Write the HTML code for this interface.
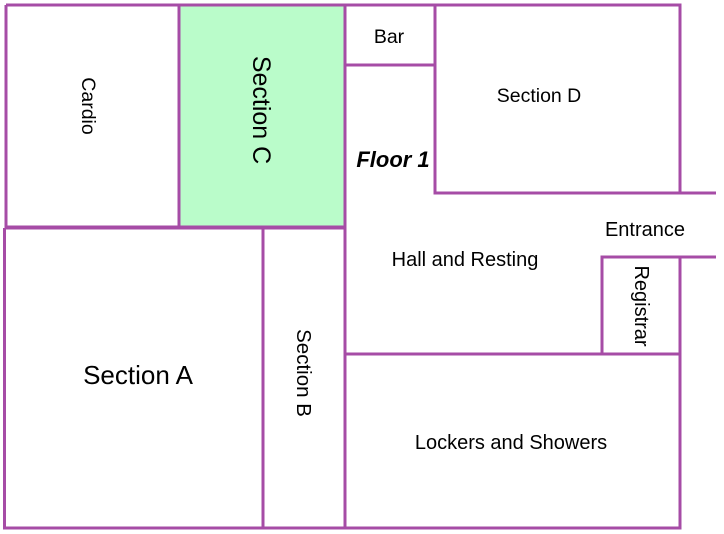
<!DOCTYPE html>
<html><head><style>
html,body{margin:0;padding:0;background:#fff;}
svg{display:block}
text{font-family:"Liberation Sans",sans-serif;fill:#000;}
</style></head><body>
<svg width="724" height="534" viewBox="0 0 724 534" xmlns="http://www.w3.org/2000/svg">
<rect x="180" y="5" width="165" height="222" fill="#bafcca"/>
<g stroke="#a64ca6" stroke-width="3" fill="none">
<path d="M6 5 H680 V193 H716"/>
<path d="M6 5 V227 H345"/>
<path d="M179 5 V227"/>
<path d="M345 5 V528"/>
<path d="M345 65 H435"/>
<path d="M435 5 V193 H680"/>
<path d="M4.5 228 V528 H680 V257"/>
<path d="M4.5 228 H345"/>
<path d="M263 228 V528"/>
<path d="M602 354 V257 H716"/>
<path d="M345 354 H680"/>
</g>
<text x="389" y="43" font-size="19.5" text-anchor="middle">Bar</text>
<text x="539" y="102" font-size="19.5" text-anchor="middle">Section D</text>
<text x="393" y="167" font-size="22" font-weight="bold" font-style="italic" text-anchor="middle">Floor 1</text>
<text x="645" y="236" font-size="20" text-anchor="middle">Entrance</text>
<text x="465" y="266" font-size="20" text-anchor="middle">Hall and Resting</text>
<text x="511" y="449" font-size="20" text-anchor="middle">Lockers and Showers</text>
<text x="138" y="384" font-size="26" text-anchor="middle">Section A</text>
<text transform="translate(82,106) rotate(90)" font-size="19.5" text-anchor="middle">Cardio</text>
<text transform="translate(253,110) rotate(90)" font-size="25" text-anchor="middle">Section C</text>
<text transform="translate(297,373) rotate(90)" font-size="20.5" text-anchor="middle">Section B</text>
<text transform="translate(635,306) rotate(90)" font-size="20" text-anchor="middle">Registrar</text>
</svg>
</body></html>
